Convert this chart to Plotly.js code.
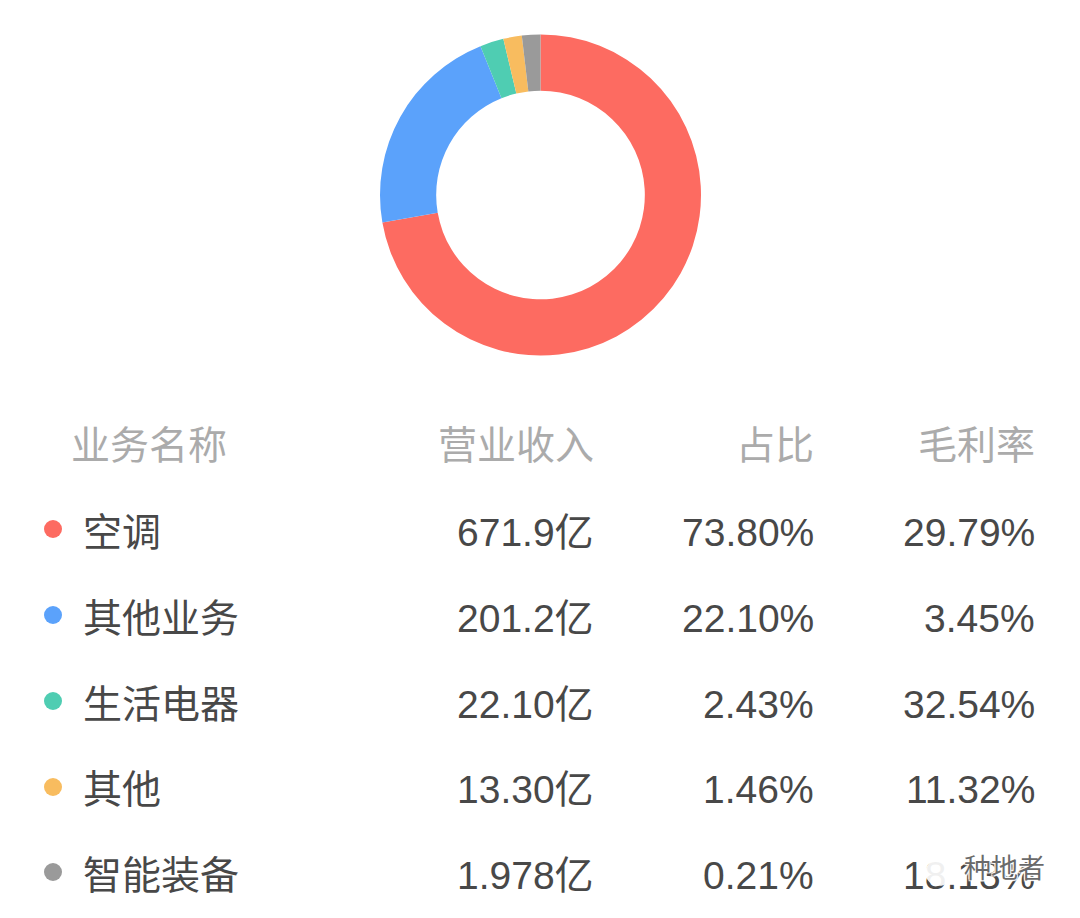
<!DOCTYPE html>
<html><head><meta charset="utf-8"><script src="https://cdn.plot.ly/plotly-3.0.1.min.js"></script>
<style>html,body{margin:0;padding:0;background:#fff}</style></head><body><div id="c" style="width:1080px;height:918px"></div>
<script>
const names=['空调','其他业务','生活电器','其他','智能装备'];
const revenue=['671.9亿','201.2亿','22.10亿','13.30亿','1.978亿'];
const shares=['73.80%','22.10%','2.43%','1.46%','0.21%'];
const margins=['29.79%','3.45%','32.54%','11.32%','18.13%'];
const sliceValues=[73.8,22.1,2.43,1.9,1.9];
const colors=['#fd6b61','#5ba2fb','#4fcdb2','#f8bc5f','#9a9a9a'];
const headers=['业务名称','营业收入','占比','毛利率'];
const watermark='种地者';
const rowY=[532,618,704,789,875];
const dotY=[529,615,701,787,872];
const F='"Liberation Sans","Noto Sans CJK SC",sans-serif';
const px=(x,y,text,anchor,color,size,extra)=>Object.assign({xref:'paper',yref:'paper',x:x/1080,y:1-y/918,text,showarrow:false,xanchor:anchor,yanchor:'middle',font:{family:F,size:size||39,color:color||'#484848'}},extra||{});
const ann=[px(69,445,headers[0],'left','#ababab'),px(596,445,headers[1],'right','#ababab'),px(816,445,headers[2],'right','#ababab'),px(1037,445,headers[3],'right','#ababab')];
const shapes=[];
names.forEach((n,i)=>{
 ann.push(px(81,rowY[i],n,'left'),px(596,rowY[i],revenue[i],'right'),px(816,rowY[i],shares[i],'right'),px(1037,rowY[i],margins[i],'right'));
 shapes.push({type:'circle',xref:'paper',yref:'paper',x0:44/1080,x1:62/1080,y0:1-(dotY[i]+9)/918,y1:1-(dotY[i]-9)/918,fillcolor:colors[i],line:{width:0}});
});
// watermark over the last cell
ann.push(px(938,868,'●','center','rgba(255,255,255,0.92)',62));
const wm=px(1004,869,watermark,'center','#6a6a6a',27);
wm.font.shadow='1px 1px 1px #fff, -1px -1px 1px #fff, 1px -1px 1px #fff, -1px 1px 1px #fff';
ann.push(wm);
Plotly.newPlot('c',[{type:'pie',values:sliceValues,labels:names,hole:0.65,sort:false,direction:'clockwise',rotation:0,
 marker:{colors,line:{width:0}},textinfo:'none',hoverinfo:'label+percent',domain:{x:[380/1080,701/1080],y:[1-356/918,1-34/918]}}],
 {width:1080,height:918,margin:{l:0,r:0,t:0,b:0},showlegend:false,paper_bgcolor:'#fff',annotations:ann,shapes},{displayModeBar:false});
</script></body></html>
